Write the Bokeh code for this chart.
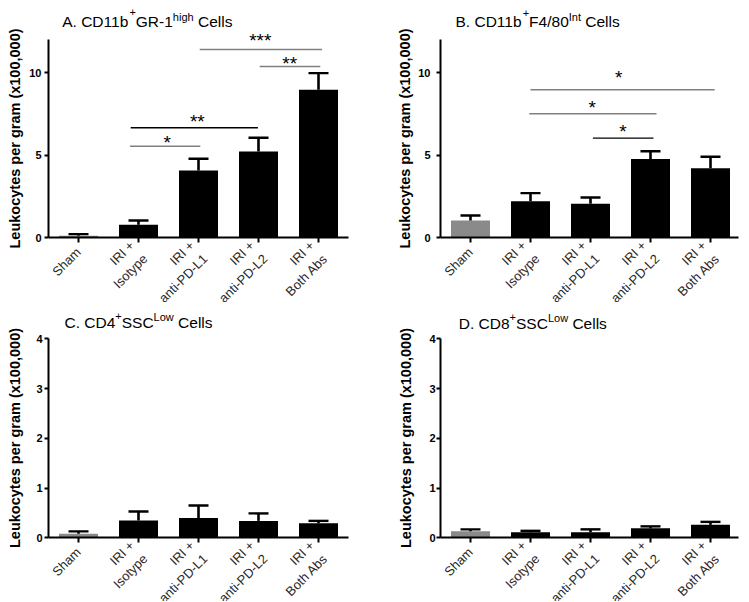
import math
from bokeh.plotting import figure
from bokeh.models import Range1d, FixedTicker
from bokeh.layouts import row, column
from bokeh.embed import file_html
from bokeh.resources import INLINE
from bokeh.core.properties import value

# ---------------- data ----------------
categories = ["Sham", "IRI +\nIsotype", "IRI +\nanti-PD-L1", "IRI +\nanti-PD-L2", "IRI +\nBoth Abs"]
bar_colors = ["#8a8a8a", "#000000", "#000000", "#000000", "#000000"]
y_label = "Leukocytes per gram (x100,000)"

# A. CD11b+GR-1high
a_mean = [0.12, 0.79, 4.08, 5.23, 8.97]
a_sem = [0.10, 0.26, 0.71, 0.83, 1.01]
a_sig_x0 = [0.86, 0.87, 2.02, 3.02]
a_sig_x1 = [2.03, 2.99, 4.06, 4.03]
a_sig_y = [5.55, 6.67, 11.41, 10.38]
a_sig_color = ["#808080", "#000000", "#808080", "#808080"]
a_sig_text = ["*", "**", "***", "**"]
a_sig_tx = [1.48, 1.98, 3.03, 3.52]
a_sig_ty = [5.96, 7.21, 12.14, 10.75]

# B. CD11b+F4/80int
b_mean = [1.05, 2.22, 2.06, 4.77, 4.22]
b_sem = [0.30, 0.49, 0.38, 0.48, 0.69]
b_sig_x0 = [1.00, 0.98, 2.04]
b_sig_x1 = [4.07, 3.10, 3.05]
b_sig_y = [8.97, 7.52, 6.04]
b_sig_color = ["#808080", "#808080", "#000000"]
b_sig_text = ["*", "*", "*"]
b_sig_tx = [2.47, 2.03, 2.54]
b_sig_ty = [9.90, 8.08, 6.60]

# C. CD4+SSClow
c_mean = [0.08, 0.35, 0.40, 0.34, 0.29]
c_sem = [0.05, 0.18, 0.25, 0.15, 0.05]

# D. CD8+SSClow
d_mean = [0.13, 0.11, 0.11, 0.19, 0.26]
d_sem = [0.04, 0.03, 0.06, 0.04, 0.06]

ticks_ab = [0, 5, 10]
ticks_cd = [0, 1, 2, 3, 4]

# title pieces: (text, is_superscript)
title_a = [("A. CD11b", False), ("+", True), ("GR-1", False), ("high", True), (" Cells", False)]
title_b = [("B. CD11b", False), ("+", True), ("F4/80", False), ("Int", True), (" Cells", False)]
title_c = [("C. CD4", False), ("+", True), ("SSC", False), ("Low", True), (" Cells", False)]
title_d = [("D. CD8", False), ("+", True), ("SSC", False), ("Low", True), (" Cells", False)]

# ---------------- helpers ----------------
ARIAL = {' ': 278, '.': 278, 'A': 667, 'B': 667, 'C': 722, 'D': 722, 'F': 611, 'G': 778,
         'I': 278, 'L': 556, 'R': 722, 'S': 667, 'b': 556, 'e': 556, 'g': 556, 'h': 556,
         'i': 222, 'l': 222, 'n': 556, 'o': 556, 's': 500, 't': 278, 'w': 722, '+': 584,
         '-': 333, '/': 278, '0': 556, '1': 556, '4': 556, '8': 556}
FONT = "Liberation Sans"
MAIN_SIZE = 15.5
SUP_SIZE = 11
PPX = 60.0   # px per category


def text_width(s, size):
    return sum(ARIAL.get(ch, 556) for ch in s) * size / 1000.0


class Panel:
    """Frame covers the whole figure; axes are placed with fixed_location."""

    def __init__(self, mean, sem, ppy, y_max, yticks, x_last, width, height,
                 axis_left_px, axis_bottom_px, tick_standoff, lab_standoff):
        self.ppy = ppy
        self.axis_left_px = axis_left_px
        self.axis_bottom_px = axis_bottom_px
        x_start = -0.5 - axis_left_px / PPX
        x_end = x_start + width / PPX
        y_end = axis_bottom_px / ppy
        y_start = -(height - axis_bottom_px) / ppy
        p = figure(width=width, height=height, x_range=Range1d(x_start, x_end),
                   y_range=Range1d(y_start, y_end), output_backend="svg",
                   toolbar_location=None, min_border=0)
        p.outline_line_color = None
        p.xgrid.visible = False
        p.ygrid.visible = False
        p.background_fill_color = "white"
        p.border_fill_color = "white"

        xs = list(range(len(categories)))
        tops = [m + s for m, s in zip(mean, sem)]
        half_cap = 10.0 / PPX

        p.vbar(x=xs, top=mean, bottom=0, width=0.65, fill_color=bar_colors, line_color=None)
        p.segment(x0=xs, y0=mean, x1=xs, y1=tops, line_color="black", line_width=2.6)
        p.segment(x0=[x - half_cap for x in xs], y0=tops, x1=[x + half_cap for x in xs],
                  y1=tops, line_color="black", line_width=2.4)

        xa = p.xaxis[0]
        xa.fixed_location = 0
        xa.bounds = (-0.5, x_last)
        xa.ticker = FixedTicker(ticks=xs)
        xa.major_label_overrides = {i: c for i, c in enumerate(categories)}
        xa.major_label_orientation = math.pi / 4
        xa.major_label_text_font = FONT
        xa.major_label_text_font_size = "13px"
        xa.major_label_text_line_height = 1.25
        xa.major_label_text_color = "#2a2a2a"
        xa.major_label_standoff = 7
        xa.axis_line_width = 2
        xa.axis_line_color = "black"
        xa.major_tick_line_width = 2
        xa.major_tick_out = 5
        xa.major_tick_in = 0
        xa.minor_tick_line_color = None

        ya = p.yaxis[0]
        ya.fixed_location = -0.5
        ya.bounds = (0, y_max)
        ya.ticker = FixedTicker(ticks=yticks)
        ya.axis_label = y_label
        ya.axis_label_text_font = FONT
        ya.axis_label_text_font_style = "bold"
        ya.axis_label_text_font_size = "14.5px"
        ya.axis_label_text_color = "black"
        ya.axis_label_standoff = lab_standoff
        ya.major_label_text_font = FONT
        ya.major_label_text_font_style = "bold"
        ya.major_label_text_font_size = "11px"
        ya.major_label_text_color = "black"
        ya.major_label_standoff = tick_standoff
        ya.axis_line_width = 2
        ya.axis_line_color = "black"
        ya.major_tick_line_width = 2
        ya.major_tick_out = 4
        ya.major_tick_in = 0
        ya.minor_tick_line_color = None
        self.p = p

    def title(self, parts, left_px, baseline_px, plus_raise, word_raise):
        """left_px, baseline_px: position in px from the figure's top-left corner."""
        x = left_px
        for txt, sup in parts:
            size = SUP_SIZE if sup else MAIN_SIZE
            r = (plus_raise if txt == "+" else word_raise) if sup else 0
            shown = txt.lstrip(" ")
            x += text_width(txt[:len(txt) - len(shown)], size)
            xd = (x - self.axis_left_px) / PPX - 0.5
            yd = (self.axis_bottom_px - baseline_px + r) / self.ppy
            self.p.text(x=[xd], y=[yd], text=[shown], text_font=value(FONT),
                        text_font_size=f"{size}px", text_color="black",
                        text_baseline="alphabetic", text_align="left")
            x += text_width(shown, size)

    def sig(self, x0, x1, y, colors, texts, tx, ty):
        self.p.segment(x0=x0, y0=y, x1=x1, y1=y, line_color=colors, line_width=1.4)
        self.p.text(x=tx, y=ty, text=texts, text_font=value(FONT), text_font_size="19px",
                    text_align="center", text_baseline="alphabetic", y_offset=3,
                    text_color="black")


# ---------------- panels ----------------
# figure A occupies page x 0..375, y 0..302; axis corner at (48, 237.3)
A = Panel(a_mean, a_sem, 16.5, 12, ticks_ab, 4.5, 375, 302, 48, 237.3, 3, 3)
A.sig(a_sig_x0, a_sig_x1, a_sig_y, a_sig_color, a_sig_text, a_sig_tx, a_sig_ty)
A.title(title_a, 61.7, 20.7, 9, 4)

# figure B occupies page x 375..748; axis corner at page (440, 237.3)
B = Panel(b_mean, b_sem, 16.5, 12, ticks_ab, 4.47, 373, 302, 65, 237.3, 6, 2)
B.sig(b_sig_x0, b_sig_x1, b_sig_y, b_sig_color, b_sig_text, b_sig_tx, b_sig_ty)
B.title(title_b, 80, 20.7, 8, 4)

# figure C occupies page x 0..375, y 302..601; axis corner at page (48, 537.3)
C = Panel(c_mean, c_sem, 49.75, 4, ticks_cd, 4.5, 375, 299, 48, 235.3, 2, 10)
C.title(title_c, 64, 19.7, 6, 5)

D = Panel(d_mean, d_sem, 49.75, 4, ticks_cd, 4.47, 373, 299, 65, 235.3, 1, 12)
D.title(title_d, 83.3, 20.7, 6, 5)

layout = column(row(A.p, B.p), row(C.p, D.p))

with open("out.html", "w") as f:
    f.write(file_html(layout, INLINE))
